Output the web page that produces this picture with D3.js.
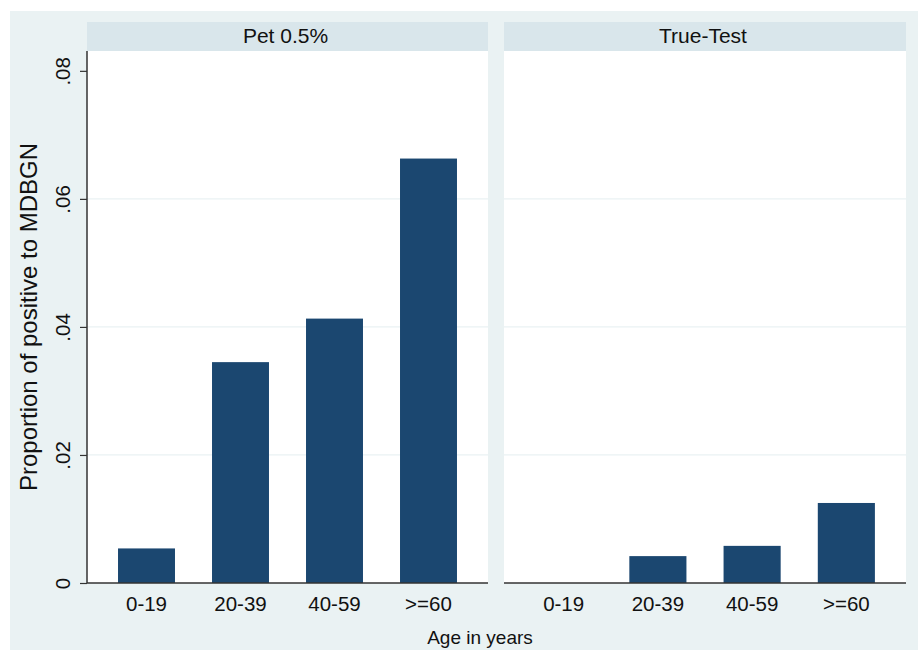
<!DOCTYPE html>
<html>
<head>
<meta charset="utf-8">
<script src="https://cdn.jsdelivr.net/npm/d3@7"></script>
<style>
  body { margin: 0; background: #fff; }
  svg { display: block; font-family: Arial, "Liberation Sans", sans-serif; }
</style>
</head>
<body>
<svg id="chart" width="918" height="650"></svg>
<script>
const categories = ["0-19", "20-39", "40-59", ">=60"];
const panelNames = ["Pet 0.5%", "True-Test"];
const petValues = [0.0054, 0.0345, 0.0413, 0.0663];
const trueTestValues = [0, 0.0042, 0.0058, 0.0125];
const yTicks = [0, 0.02, 0.04, 0.06, 0.08];
const gridTicks = [0.02, 0.04, 0.06];

const panelValues = [petValues, trueTestValues];

const svg = d3.select("#chart");
const W = 918, H = 650;

const plotTop = 51, plotBottom = 583;
const panelX = [[87, 488], [504, 906]];
const barColor = "#1b4770";

// outer background
svg.append("rect")
  .attr("x", 10).attr("y", 11)
  .attr("width", W - 10).attr("height", H - 11)
  .attr("fill", "#eaf2f3");

const y = d3.scaleLinear().domain([0, 0.0831]).range([plotBottom, plotTop]);

const fmt = (d) => (d === 0 ? "0" : d3.format(".2f")(d).replace(/^0/, ""));

panelNames.forEach((name, i) => {
  const [x0, x1] = panelX[i];
  const g = svg.append("g");

  g.append("rect")
    .attr("x", x0).attr("y", plotTop)
    .attr("width", x1 - x0).attr("height", plotBottom - plotTop)
    .attr("fill", "#fff");

  // header strip
  g.append("rect")
    .attr("x", x0).attr("y", 22)
    .attr("width", x1 - x0).attr("height", plotTop - 22)
    .attr("fill", "#d9e6eb");
  g.append("text")
    .attr("x", (x0 + x1) / 2 - 2).attr("y", 43)
    .attr("text-anchor", "middle")
    .attr("font-size", 21)
    .attr("fill", "#111")
    .text(name);

  g.selectAll("line.grid")
    .data(gridTicks)
    .join("line")
    .attr("class", "grid")
    .attr("x1", x0).attr("x2", x1)
    .attr("y1", (d) => y(d)).attr("y2", (d) => y(d))
    .attr("stroke", "#eaf2f3")
    .attr("stroke-width", 1.2);

  const x = d3.scaleBand()
    .domain(categories)
    .range([x0, x1])
    .paddingInner(0.394)
    .paddingOuter(0.33);

  g.selectAll("rect.bar")
    .data(categories.map((c, j) => ({ c, v: panelValues[i][j] })))
    .join("rect")
    .attr("class", "bar")
    .attr("x", (d) => x(d.c))
    .attr("width", x.bandwidth())
    .attr("y", (d) => y(d.v))
    .attr("height", (d) => plotBottom - y(d.v))
    .attr("fill", barColor);

  const xAxis = g.append("g")
    .attr("transform", `translate(0,${plotBottom})`)
    .call(d3.axisBottom(x).tickSize(0).tickPadding(10));
  xAxis.select(".domain").attr("stroke", "#333").attr("stroke-width", 1.5)
    .attr("d", `M${x0},0H${x1}`);
  xAxis.selectAll("text")
    .attr("font-size", 20.5)
    .attr("font-family", "Arial, 'Liberation Sans', sans-serif")
    .attr("fill", "#111")
    .attr("dy", null)
    .attr("y", 28);

  if (i === 0) {
    const yAxis = g.append("g")
      .attr("transform", `translate(${x0},0)`)
      .call(d3.axisLeft(y).tickValues(yTicks).tickSize(7).tickFormat(fmt).tickSizeOuter(0));
    yAxis.select(".domain").attr("stroke", "#333").attr("stroke-width", 1.5)
      .attr("d", `M0,${plotTop}V${plotBottom}`);
    yAxis.selectAll(".tick line").attr("stroke", "#333").attr("stroke-width", 1.2);
    yAxis.selectAll(".tick text")
      .attr("font-size", 20.5)
      .attr("font-family", "Arial, 'Liberation Sans', sans-serif")
      .attr("fill", "#111")
      .attr("x", null).attr("dy", null)
      .attr("text-anchor", "middle")
      .attr("transform", "translate(-17,0) rotate(-90)");
  }
});

// axis titles
svg.append("text")
  .attr("transform", "translate(37,317) rotate(-90)")
  .attr("text-anchor", "middle")
  .attr("font-size", 24)
  .attr("fill", "#111")
  .text("Proportion of positive to MDBGN");

svg.append("text")
  .attr("x", 480).attr("y", 644)
  .attr("text-anchor", "middle")
  .attr("font-size", 19)
  .attr("fill", "#111")
  .text("Age in years");
</script>
</body>
</html>
